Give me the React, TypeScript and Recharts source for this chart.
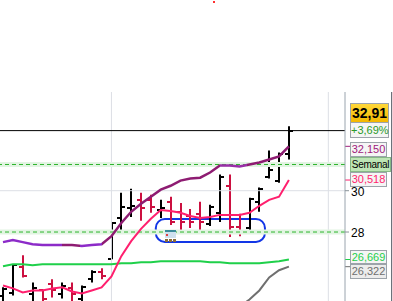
import React from "react";
import { Bar, ComposedChart, Line, ReferenceArea, ReferenceLine, XAxis, YAxis } from "recharts";

// bar index (one per session)
const sessions = [0, 1, 2, 3, 4, 5, 6, 7, 8, 9, 10, 11, 12, 13, 14, 15, 16, 17, 18, 19, 20, 21, 22, 23, 24, 25, 26, 27, 28, 29];
const opens = [24.88, 25.07, 26.29, 25.02, 25.17, 25.46, 25.02, 25.27, 24.78, 25.71, 26.05, 26.7, 28.68, 29.17, 29.56, 29.56, 29.07, 29.46, 28.98, 28.78, 28.88, 28.39, 28.93, 30.24, 28.24, 28.2, 29.46, 30.68, 30.49, 31.8];
const highs = [25.32, 26.44, 26.88, 25.56, 25.22, 25.71, 25.56, 25.56, 25.41, 26.15, 26.24, 28.49, 29.9, 30.1, 29.9, 29.8, 29.56, 29.71, 29.41, 29.12, 29.46, 29.32, 30.78, 30.78, 28.88, 29.66, 30.15, 31.95, 31.85, 33.12];
const lows = [24.4, 24.93, 25.8, 24.39, 24.44, 24.83, 24.78, 24.59, 24.49, 25.56, 25.71, 26.68, 28.0, 28.73, 28.54, 28.93, 28.68, 28.34, 27.95, 28.2, 28.0, 28.29, 28.49, 27.76, 27.8, 28.1, 28.98, 30.59, 30.39, 31.51];
const closes = [25.22, 26.39, 25.85, 25.27, 24.78, 25.17, 25.41, 24.98, 25.32, 26.05, 25.85, 28.44, 29.22, 29.27, 29.17, 29.22, 29.17, 28.49, 28.49, 28.49, 28.49, 29.22, 30.68, 28.24, 28.05, 29.61, 30.1, 30.98, 31.76, 32.91];

// indicators
const upperAvg = [27.51, 27.61, 27.51, 27.41, 27.37, 27.37, 27.37, 27.37, 27.32, 27.37, 27.41, 27.8, 28.44, 28.98, 29.37, 29.71, 30.05, 30.24, 30.49, 30.59, 30.63, 30.88, 31.22, 31.22, 31.17, 31.27, 31.37, 31.51, 31.66, 32.15];
const fastAvg = [25.41, 25.27, 25.07, 25.17, 25.17, 25.27, 25.32, 25.12, 25.02, 25.17, 25.32, 25.85, 26.83, 27.56, 28.15, 28.64, 29.07, 29.02, 28.93, 28.78, 28.68, 28.73, 28.83, 28.83, 28.83, 28.93, 29.27, 29.56, 29.71, 30.518];
const slowAvg = [26.34, 26.44, 26.44, 26.39, 26.44, 26.44, 26.44, 26.44, 26.44, 26.44, 26.44, 26.44, 26.49, 26.49, 26.54, 26.54, 26.59, 26.59, 26.59, 26.59, 26.59, 26.54, 26.54, 26.49, 26.49, 26.49, 26.49, 26.54, 26.59, 26.669];
const longAvg = [null, null, null, null, null, null, null, null, null, null, null, null, null, null, null, null, null, null, null, null, null, null, null, 23.9, 24.39, 24.73, 25.17, 25.8, 26.15, 26.322];

const weeklyLevels = [31.27, 28.0];
const lastPrice = 32.91;
const yTicks = [28, 30];
const gridX = [11, 33];
const gridY = [30];

const rows = sessions.map((s, k) => ({
  s,
  open: opens[k],
  high: highs[k],
  low: lows[k],
  close: closes[k],
  upper: upperAvg[k],
  fast: fastAvg[k],
  slow: slowAvg[k],
  long: longAvg[k],
}));

const OhlcShape = (props: any) => {
  const { x, y, width, height, payload } = props;
  if (x == null || y == null || !payload) return null;
  const top = Math.min(y, y + height);
  const bottom = Math.max(y, y + height);
  const span = payload.high - payload.low || 1;
  const yOf = (v: number) => Math.round(top + ((payload.high - v) / span) * (bottom - top));
  const cx = Math.round(x + width / 2);
  const color = payload.close >= payload.open ? "#000000" : "#cc1040";
  return (
    <g stroke={color} strokeWidth={2}>
      <line x1={cx} x2={cx} y1={top} y2={bottom} />
      <line x1={cx - 4} x2={cx} y1={yOf(payload.open)} y2={yOf(payload.open)} />
      <line x1={cx} x2={cx + 4} y1={yOf(payload.close)} y2={yOf(payload.close)} />
    </g>
  );
};

const boxStyle = (top: number, height: number, width: number, color: string, bg = "#f5f5f5", border = "#9ca3aa") => ({
  position: "absolute" as const,
  left: 350,
  top,
  width,
  height,
  boxSizing: "border-box" as const,
  border: `1px solid ${border}`,
  background: bg,
  color,
  fontSize: 11,
  lineHeight: `${height - 2}px`,
  textAlign: "center" as const,
  whiteSpace: "nowrap" as const,
});

export default function App() {
  return (
    <div style={{ position: "absolute", left: 0, top: 0, width: 393, height: 301, background: "#fff", overflow: "hidden", fontFamily: "'Liberation Sans', Arial, sans-serif" }}>
      <ComposedChart width={393} height={301} data={rows} margin={{ top: 92, right: 0, bottom: 0, left: 0 }}>
        <defs>
          <linearGradient id="upperStroke" gradientUnits="userSpaceOnUse" x1="0" y1="0" x2="345" y2="0">
            <stop offset="0" stopColor="#8c2bc8" />
            <stop offset="0.18" stopColor="#8c2bc8" />
            <stop offset="0.18" stopColor="#8e1c72" />
            <stop offset="0.232" stopColor="#8e1c72" />
            <stop offset="0.232" stopColor="#8c2bc8" />
            <stop offset="0.296" stopColor="#8c2bc8" />
            <stop offset="0.296" stopColor="#8e1c72" />
            <stop offset="0.638" stopColor="#8e1c72" />
            <stop offset="0.638" stopColor="#9a2fa8" />
            <stop offset="0.716" stopColor="#9a2fa8" />
            <stop offset="0.716" stopColor="#8e1c72" />
            <stop offset="1" stopColor="#8e1c72" />
          </linearGradient>
        </defs>
        <XAxis dataKey="s" type="number" domain={[-0.304, 34.69]} allowDataOverflow hide />
        <YAxis
          orientation="right"
          width={48}
          domain={[24.66, 34.78]}
          allowDataOverflow
          ticks={yTicks}
          tickSize={4}
          tickLine={{ stroke: "#8a9298" }}
          axisLine={{ stroke: "#9aa4ae" }}
          tick={{ fontSize: 12, fill: "#000", fontFamily: "'Liberation Sans', Arial, sans-serif", dy: 1 }}
        />
        {gridX.map((g) => (
          <ReferenceLine key={"gx" + g} x={g} stroke="#dcdfe5" />
        ))}
        {gridY.map((g) => (
          <ReferenceLine key={"gy" + g} y={g} stroke="#dcdfe5" />
        ))}
        {weeklyLevels.map((l) => (
          <ReferenceLine key={"band" + l} y={l} stroke="#e2f4e2" strokeWidth={5} />
        ))}
        {weeklyLevels.map((l) => (
          <ReferenceLine key={"lvl" + l} y={l} stroke="#2db52d" strokeDasharray="4 3" />
        ))}
        <ReferenceLine y={lastPrice} stroke="#000" />
        <Bar dataKey={(d: any) => [d.low, d.high]} barSize={8} shape={<OhlcShape />} isAnimationActive={false} />
        <Line dataKey="long" stroke="#6f6f6f" strokeWidth={2} dot={false} isAnimationActive={false} />
        <Line dataKey="slow" stroke="#1fd04a" strokeWidth={2} dot={false} isAnimationActive={false} />
        <Line dataKey="upper" stroke="url(#upperStroke)" strokeWidth={2.5} dot={false} isAnimationActive={false} />
        <Line dataKey="fast" stroke="#ff1f6e" strokeWidth={2} dot={false} isAnimationActive={false} />
        <ReferenceArea
          x1={15.5}
          x2={26.57}
          y1={27.52}
          y2={28.63}
          ifOverflow="visible"
          shape={(p: any) => (
            <rect x={p.x} y={p.y} width={p.width} height={p.height} rx={9} ry={9} fill="none" stroke="#1236e6" strokeWidth={2} />
          )}
        />
        <ReferenceLine segment={[{ x: 34.69, y: upperAvg[29] }, { x: 35.2, y: upperAvg[29] }]} stroke="#a0207c" ifOverflow="visible" />
        <ReferenceLine segment={[{ x: 34.69, y: fastAvg[29] }, { x: 35.2, y: fastAvg[29] }]} stroke="#ff1f6e" ifOverflow="visible" />
        <ReferenceLine segment={[{ x: 34.69, y: slowAvg[29] }, { x: 35.2, y: slowAvg[29] }]} stroke="#1fd04a" ifOverflow="visible" />
        <ReferenceLine segment={[{ x: 34.69, y: longAvg[29] as number }, { x: 35.2, y: longAvg[29] as number }]} stroke="#6f6f6f" ifOverflow="visible" />
      </ComposedChart>

      {/* calendar marker */}
      <div style={{ position: "absolute", left: 165, top: 230, width: 11, height: 8, boxSizing: "border-box", borderTop: "2px solid #3a8a9a", background: "#cfe0ee" }}>
        <div style={{ position: "absolute", left: 1, top: 2, width: 2, height: 2, background: "#e04040" }} />
      </div>
      <div style={{ position: "absolute", left: 165, top: 239, width: 3, height: 3, background: "#8a6a3a" }} />
      <div style={{ position: "absolute", left: 169, top: 239, width: 3, height: 3, background: "#8a6a3a" }} />
      <div style={{ position: "absolute", left: 173, top: 239, width: 3, height: 3, background: "#8a6a3a" }} />

      {/* price tags on the axis */}
      <div style={{ ...boxStyle(103, 20, 39, "#000", "linear-gradient(#ffd83a, #f4b800)"), fontSize: 14, fontWeight: "bold" }}>32,91</div>
      <div style={boxStyle(122, 16, 39, "#2a9a2a")}>+3,69%</div>
      <div style={boxStyle(142, 15, 37, "#a0207c")}>32,150</div>
      <div style={{ ...boxStyle(157, 15, 41, "#000", "#bde5b5", "#86b886"), fontSize: 10, letterSpacing: -0.3 }}>Semanal</div>
      <div style={boxStyle(172, 15, 37, "#ff1f6e")}>30,518</div>
      <div style={boxStyle(250, 14, 37, "#1fd04a")}>26,669</div>
      <div style={boxStyle(264, 15, 37, "#6f6f6f", "#ececec")}>26,322</div>

      <div style={{ position: "absolute", left: 391, top: 92, width: 1, height: 209, background: "#6b737b" }} />
      <div style={{ position: "absolute", left: 392, top: 92, width: 1, height: 209, background: "#f0d0d8" }} />
      <div style={{ position: "absolute", left: 213, top: 1, width: 2, height: 2, background: "#ff3030" }} />
    </div>
  );
}
